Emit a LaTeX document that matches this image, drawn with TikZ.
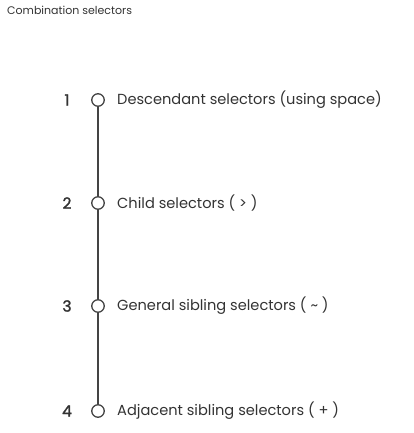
\documentclass[tikz,border=0pt]{standalone}
\usepackage{fontspec}
\setmainfont{Poppins}
\newfontfamily\numfont[FakeBold=1.6]{Poppins}
\definecolor{ink}{HTML}{333333}
\definecolor{lin}{HTML}{444444}
\begin{document}
\begin{tikzpicture}[x=1pt,y=-1pt,
  dot/.style={circle,draw=lin,line width=1.3pt,fill=white,minimum size=12.5pt,inner sep=0pt},
  num/.style={anchor=center,text=ink,font=\numfont\fontsize{15.5}{18}\selectfont},
  lbl/.style={anchor=west,inner sep=0pt,text=ink,font=\fontsize{14.6}{17}\selectfont},
  conn/.style={draw=lin,line width=1.3pt}]
\useasboundingbox (0,0) rectangle (413,433);
\node[anchor=west,inner sep=0pt,text=ink,font=\fontsize{11}{13}\selectfont] (title) at (7,10) {Combination selectors};
\node[dot] (c1) at (98,100) {};
\node[dot] (c2) at (98,203) {};
\node[dot] (c3) at (98,306) {};
\node[dot] (c4) at (98,411) {};
\draw[conn] (c1) -- (c2);
\draw[conn] (c2) -- (c3);
\draw[conn] (c3) -- (c4);
\node[num] (n1) at (67,100) {1};
\node[num] (n2) at (67,203) {2};
\node[num] (n3) at (67,306) {3};
\node[num] (n4) at (67,411) {4};
\node[lbl] (t1) at (117,100) {Descendant selectors (using space)};
\node[lbl] (t2) at (117,203) {Child selectors ( > )};
\node[lbl] (t3) at (117,306) {General sibling selectors ( \textasciitilde\ )};
\node[lbl] (t4) at (117,411) {Adjacent sibling selectors ( + )};
\end{tikzpicture}
\end{document}
